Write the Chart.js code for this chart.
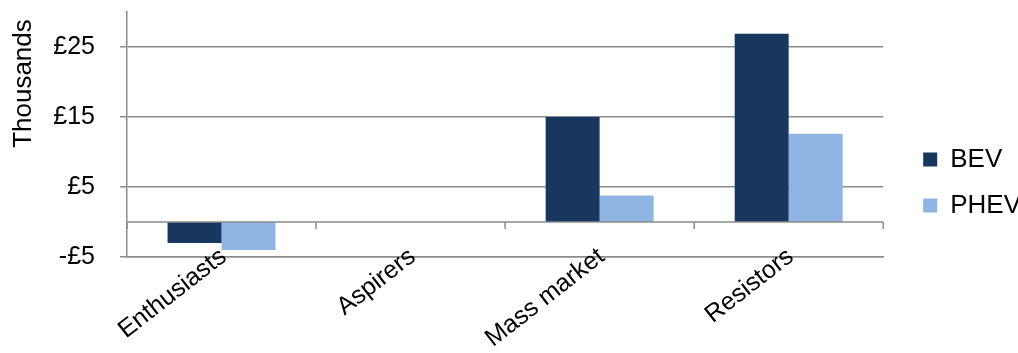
<!DOCTYPE html>
<html>
<head>
<meta charset="utf-8">
<script src="https://cdn.jsdelivr.net/npm/chart.js@4/dist/chart.umd.min.js"></script>
<style>
	html, body { margin: 0; padding: 0; background: #fff; }
</style>
</head>
<body>
<canvas id="main" width="1018" height="353"></canvas>
<script>
var categories = ['Enthusiasts', 'Aspirers', 'Mass market', 'Resistors'];
var bevValues = [-3, null, 15, 26.9];
var phevValues = [-4, null, 3.8, 12.6];
var yTicks = [-5, 5, 15, 25];

var gridColor = '#8c8c8c';
var fontFamily = '"Liberation Sans", Arial, sans-serif';

// zero line with category tick marks, like the excel category axis
var zeroAxis = {
	id: 'zeroAxis',
	afterDatasetsDraw: function(chart){
		var ctx = chart.ctx,
			y = chart.scales.y,
			area = chart.chartArea;
		var y0 = y.getPixelForValue(0);
		ctx.save();
		ctx.strokeStyle = gridColor;
		ctx.lineWidth = 1.5;
		ctx.beginPath();
		ctx.moveTo(area.left, y0);
		ctx.lineTo(area.right, y0);
		for (var i=0; i<=categories.length; i++){
			var px = area.left + i * (area.right - area.left) / categories.length;
			ctx.moveTo(px, y0);
			ctx.lineTo(px, y0 + 7);
		}
		ctx.stroke();
		ctx.restore();
	}
};

// push the legend a bit away from the plot, excel style
var legendPlace = {
	id: 'legendPlace',
	afterLayout: function(chart){
		var lg = chart.legend;
		lg.left += 20; lg.right += 20;
	}
};

var ctx = document.getElementById('main').getContext('2d');
var chart = new Chart(ctx, {
	type: 'bar',
	data: {
		labels: categories,
		datasets: [
			{label: 'BEV', data: bevValues, backgroundColor: '#17375e'},
			{label: 'PHEV', data: phevValues, backgroundColor: '#8eb4e3'}
		]
	},
	options: {
		responsive: false,
		animation: false,
		layout: {padding: {top: 12, right: 7, left: 0, bottom: 0}},
		categoryPercentage: 0.571,
		barPercentage: 1,
		plugins: {
			tooltip: {enabled: false},
			legend: {
				position: 'right',
				labels: {
					boxWidth: 14,
					boxHeight: 14,
					padding: 20,
					color: '#000',
					font: {family: fontFamily, size: 26}
				}
			}
		},
		scales: {
			x: {
				grid: {display: false},
				border: {display: true, color: gridColor, width: 1.5},
				afterFit: function(axis){
					axis.height = 96;
					axis.paddingLeft = 0;
					axis.paddingRight = 0;
					// labels poke above the axis line, don't clip them
					axis._computeLabelArea = function(){ return undefined; };
				},
				ticks: {
					autoSkip: false,
					maxRotation: 38,
					minRotation: 38,
					color: '#000',
					padding: -23,
					labelOffset: 2,
					font: {family: fontFamily, size: 25}
				}
			},
			y: {
				min: -5,
				max: 30,
				afterBuildTicks: function(axis){
					axis.ticks = yTicks.map(function(v){ return {value: v}; });
				},
				afterFit: function(axis){
					axis.width = 127;
					axis.paddingTop = 0;
					axis.paddingBottom = 0;
				},
				grid: {color: gridColor, lineWidth: 1.5, tickLength: 7},
				border: {display: true, color: gridColor, width: 1.5},
				title: {
					display: true,
					text: 'Thousands ',
					align: 'end',
					color: '#000',
					padding: {top: 8, bottom: 0},
					font: {family: fontFamily, size: 26}
				},
				ticks: {
					color: '#000',
					padding: 25,
					font: {family: fontFamily, size: 25},
					callback: function(v){
						return v < 0 ? '-£' + (-v) : '£' + v;
					}
				}
			}
		}
	},
	plugins: [zeroAxis, legendPlace]
});
</script>
</body>
</html>
